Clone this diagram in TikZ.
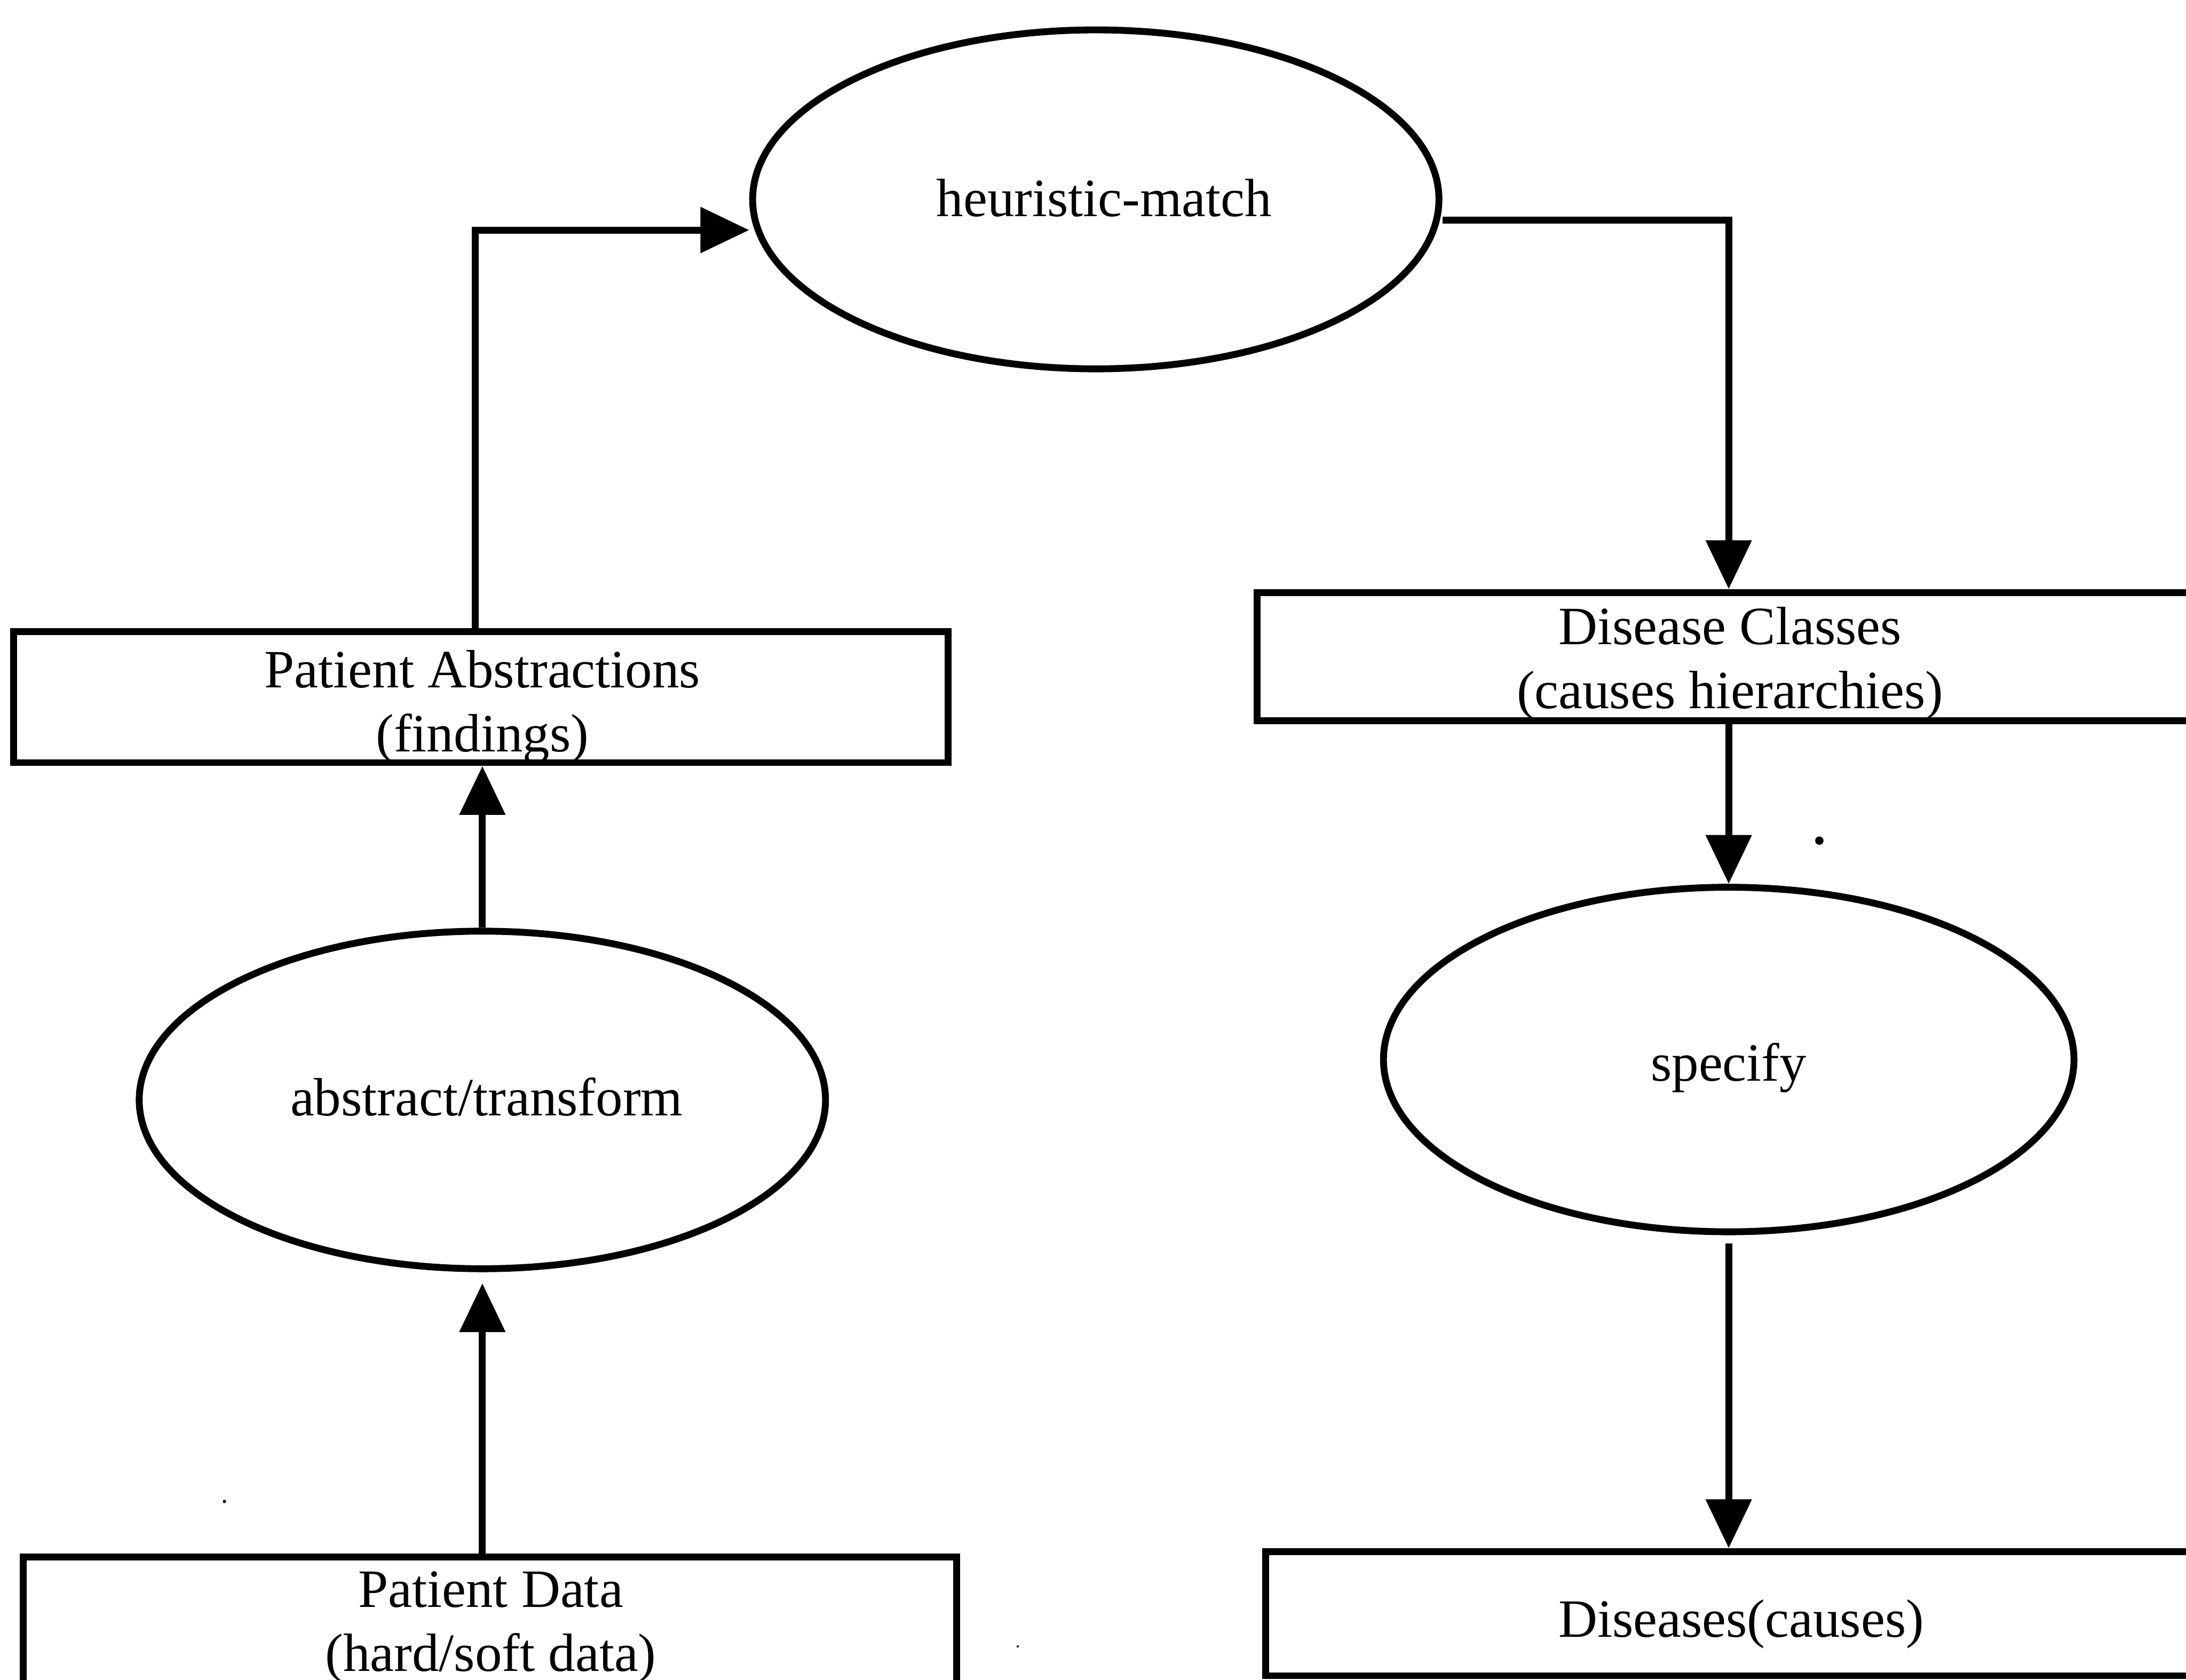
\documentclass[tikz,border=0pt]{standalone}
\usepackage{fontspec}
\setmainfont{Liberation Serif}
\usetikzlibrary{arrows.meta,shapes.geometric,calc}
\begin{document}
\begin{tikzpicture}[x=0.01cm,y=-0.01cm,
  every node/.style={font=\fontsize{11}{13.1}\selectfont},
  proc/.style={draw, ellipse, line width=1.4pt, inner sep=0pt},
  store/.style={draw, rectangle, line width=1.4pt, inner sep=0pt},
  lbl/.style={align=center, inner sep=0pt},
  flow/.style={line width=1.4pt, -{Triangle[length=0.35cm,width=0.32cm]}}]
\useasboundingbox (0,0) rectangle (1568,1205);
\fill[white] (0,0) rectangle (1568,1205);
\clip (0,0) rectangle (1568,1205);

% processes
\node[proc, minimum width=4.92cm, minimum height=2.43cm] (hm) at (786,143) {};
\node[proc, minimum width=4.92cm, minimum height=2.42cm] (at) at (346,789) {};
\node[proc, minimum width=4.95cm, minimum height=2.47cm] (sp) at (1240,760) {};

% process labels
\node[lbl] (hmT) at (792,142) {heuristic-match};
\node[lbl] (atT) at (349,787) {abstract/transform};
\node[lbl] (spT) at (1240,766) {specify};

% data stores (some run past the page edge)
\node[store, minimum width=6.70cm, minimum height=0.94cm] (pa) at (345,500) {};
\node[store, minimum width=7.18cm, minimum height=0.92cm] (dc) at (1261,471) {};
\node[store, minimum width=6.69cm, minimum height=1.23cm] (pd) at (351.5,1178.5) {};
\node[store, minimum width=7.12cm, minimum height=0.89cm] (ds) at (1264,1157.5) {};

% store labels
\node[lbl] (paT) at (346,507) {Patient Abstractions\\(findings)};
\node[lbl] (dcT) at (1241,476) {Disease Classes\\(causes hierarchies)};
\node[lbl] (pdT) at (352,1167) {Patient Data\\(hard/soft data)};
\node[lbl] (dsT) at (1249,1165) {Diseases(causes)};

% flows
\draw[flow, shorten >=0.08cm] (at.south |- pd.north) -- (at.south);
\draw[flow] (at.north) -- (at.north |- pa.south);
\draw[flow] ([xshift=-0.04cm]pa.north) |- ([yshift=-0.22cm]hm.west);
\draw[flow] ([yshift=-0.15cm]hm.east) -| (sp.north |- dc.north);
\draw[flow] (sp.north |- dc.south) -- (sp.north);
\draw[flow, shorten <=0.06cm] (sp.south) -- (sp.south |- ds.north);

% stray specks
\fill (1305,603) circle (0.03cm);
\fill (161,1077) circle (0.012cm);
\fill (730,1181) circle (0.008cm);
\end{tikzpicture}
\end{document}
